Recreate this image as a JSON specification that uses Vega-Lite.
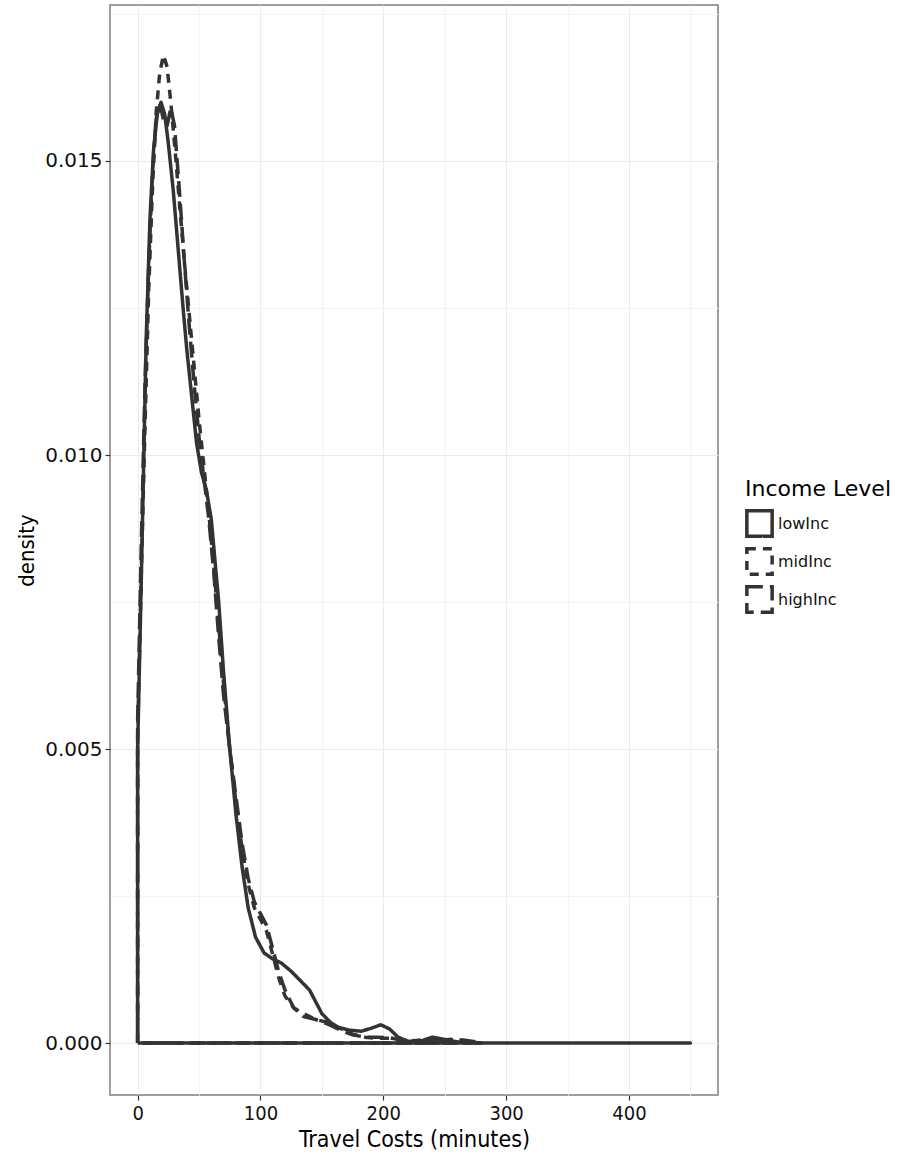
{
  "$schema": "https://vega.github.io/schema/vega-lite/v6.json",
  "width": 608,
  "height": 1090,
  "autosize": {"type": "none"},
  "padding": {"left": 110, "top": 5, "right": 202, "bottom": 60},
  "background": "white",
  "config": {
    "view": {"stroke": "#7f7f7f", "strokeWidth": 1.5},
    "axis": {"domain": false, "tickColor": "#333333", "tickSize": 5, "tickWidth": 1.2, "labelColor": "#111111", "titleColor": "#000000", "titleFontWeight": "normal", "gridColor": "#ebebeb", "gridWidth": 1}
  },
  "data": {
    "values": [
      {"g": "lowInc", "i": 0, "x": 0, "y": 0},
      {"g": "lowInc", "i": 1, "x": 0, "y": 0.0050},
      {"g": "lowInc", "i": 2, "x": 3, "y": 0.0079},
      {"g": "lowInc", "i": 3, "x": 7, "y": 0.0120},
      {"g": "lowInc", "i": 4, "x": 10, "y": 0.0140},
      {"g": "lowInc", "i": 5, "x": 13, "y": 0.0152},
      {"g": "lowInc", "i": 6, "x": 16, "y": 0.0158},
      {"g": "lowInc", "i": 7, "x": 19, "y": 0.0160},
      {"g": "lowInc", "i": 8, "x": 22, "y": 0.0158},
      {"g": "lowInc", "i": 9, "x": 25, "y": 0.0153},
      {"g": "lowInc", "i": 10, "x": 29, "y": 0.0145},
      {"g": "lowInc", "i": 11, "x": 33, "y": 0.0135},
      {"g": "lowInc", "i": 12, "x": 37, "y": 0.0125},
      {"g": "lowInc", "i": 13, "x": 40, "y": 0.0118},
      {"g": "lowInc", "i": 14, "x": 44, "y": 0.0110},
      {"g": "lowInc", "i": 15, "x": 48, "y": 0.0102},
      {"g": "lowInc", "i": 16, "x": 52, "y": 0.0097},
      {"g": "lowInc", "i": 17, "x": 56, "y": 0.0094},
      {"g": "lowInc", "i": 18, "x": 60, "y": 0.0089},
      {"g": "lowInc", "i": 19, "x": 63, "y": 0.0082},
      {"g": "lowInc", "i": 20, "x": 66, "y": 0.0075},
      {"g": "lowInc", "i": 21, "x": 70, "y": 0.0063},
      {"g": "lowInc", "i": 22, "x": 75, "y": 0.0050},
      {"g": "lowInc", "i": 23, "x": 80, "y": 0.0039},
      {"g": "lowInc", "i": 24, "x": 85, "y": 0.0030},
      {"g": "lowInc", "i": 25, "x": 90, "y": 0.0023},
      {"g": "lowInc", "i": 26, "x": 96, "y": 0.0018},
      {"g": "lowInc", "i": 27, "x": 103, "y": 0.00153},
      {"g": "lowInc", "i": 28, "x": 110, "y": 0.00143},
      {"g": "lowInc", "i": 29, "x": 117, "y": 0.00136},
      {"g": "lowInc", "i": 30, "x": 125, "y": 0.00122},
      {"g": "lowInc", "i": 31, "x": 133, "y": 0.00105},
      {"g": "lowInc", "i": 32, "x": 140, "y": 0.0009},
      {"g": "lowInc", "i": 33, "x": 145, "y": 0.0007},
      {"g": "lowInc", "i": 34, "x": 150, "y": 0.0005},
      {"g": "lowInc", "i": 35, "x": 157, "y": 0.00035},
      {"g": "lowInc", "i": 36, "x": 163, "y": 0.00027},
      {"g": "lowInc", "i": 37, "x": 172, "y": 0.00022},
      {"g": "lowInc", "i": 38, "x": 182, "y": 0.0002},
      {"g": "lowInc", "i": 39, "x": 190, "y": 0.00025},
      {"g": "lowInc", "i": 40, "x": 198, "y": 0.00031},
      {"g": "lowInc", "i": 41, "x": 205, "y": 0.00024},
      {"g": "lowInc", "i": 42, "x": 212, "y": 0.0001},
      {"g": "lowInc", "i": 43, "x": 220, "y": 0.00003},
      {"g": "lowInc", "i": 44, "x": 230, "y": 0.00003},
      {"g": "lowInc", "i": 45, "x": 240, "y": 0.0001},
      {"g": "lowInc", "i": 46, "x": 250, "y": 0.00006},
      {"g": "lowInc", "i": 47, "x": 260, "y": 0.00002},
      {"g": "lowInc", "i": 48, "x": 280, "y": 0},
      {"g": "lowInc", "i": 49, "x": 350, "y": 0},
      {"g": "lowInc", "i": 50, "x": 450, "y": 0},
      {"g": "lowInc", "i": 51, "x": 0, "y": 0},
      {"g": "midInc", "i": 0, "x": 0, "y": 0},
      {"g": "midInc", "i": 1, "x": 0, "y": 0.0052},
      {"g": "midInc", "i": 2, "x": 3, "y": 0.0080},
      {"g": "midInc", "i": 3, "x": 6, "y": 0.0105},
      {"g": "midInc", "i": 4, "x": 9, "y": 0.0128},
      {"g": "midInc", "i": 5, "x": 12, "y": 0.0145},
      {"g": "midInc", "i": 6, "x": 15, "y": 0.0158},
      {"g": "midInc", "i": 7, "x": 18, "y": 0.0165},
      {"g": "midInc", "i": 8, "x": 21, "y": 0.0168},
      {"g": "midInc", "i": 9, "x": 24, "y": 0.0166},
      {"g": "midInc", "i": 10, "x": 27, "y": 0.0160},
      {"g": "midInc", "i": 11, "x": 30, "y": 0.0153},
      {"g": "midInc", "i": 12, "x": 34, "y": 0.0143},
      {"g": "midInc", "i": 13, "x": 38, "y": 0.0133},
      {"g": "midInc", "i": 14, "x": 42, "y": 0.0124},
      {"g": "midInc", "i": 15, "x": 46, "y": 0.0115},
      {"g": "midInc", "i": 16, "x": 50, "y": 0.0106},
      {"g": "midInc", "i": 17, "x": 54, "y": 0.0098},
      {"g": "midInc", "i": 18, "x": 58, "y": 0.0090},
      {"g": "midInc", "i": 19, "x": 62, "y": 0.0081},
      {"g": "midInc", "i": 20, "x": 66, "y": 0.0071},
      {"g": "midInc", "i": 21, "x": 70, "y": 0.0061},
      {"g": "midInc", "i": 22, "x": 75, "y": 0.0050},
      {"g": "midInc", "i": 23, "x": 80, "y": 0.0041},
      {"g": "midInc", "i": 24, "x": 85, "y": 0.0033},
      {"g": "midInc", "i": 25, "x": 90, "y": 0.0027},
      {"g": "midInc", "i": 26, "x": 95, "y": 0.0023},
      {"g": "midInc", "i": 27, "x": 100, "y": 0.0021},
      {"g": "midInc", "i": 28, "x": 105, "y": 0.0019},
      {"g": "midInc", "i": 29, "x": 110, "y": 0.0015},
      {"g": "midInc", "i": 30, "x": 115, "y": 0.0011},
      {"g": "midInc", "i": 31, "x": 120, "y": 0.0008},
      {"g": "midInc", "i": 32, "x": 127, "y": 0.0006},
      {"g": "midInc", "i": 33, "x": 135, "y": 0.0005},
      {"g": "midInc", "i": 34, "x": 145, "y": 0.0004},
      {"g": "midInc", "i": 35, "x": 155, "y": 0.00035},
      {"g": "midInc", "i": 36, "x": 165, "y": 0.00025},
      {"g": "midInc", "i": 37, "x": 175, "y": 0.00015},
      {"g": "midInc", "i": 38, "x": 185, "y": 0.0001},
      {"g": "midInc", "i": 39, "x": 195, "y": 0.00008},
      {"g": "midInc", "i": 40, "x": 205, "y": 0.00008},
      {"g": "midInc", "i": 41, "x": 215, "y": 0.00005},
      {"g": "midInc", "i": 42, "x": 225, "y": 0.00004},
      {"g": "midInc", "i": 43, "x": 235, "y": 0.00006},
      {"g": "midInc", "i": 44, "x": 245, "y": 0.00005},
      {"g": "midInc", "i": 45, "x": 255, "y": 0.00006},
      {"g": "midInc", "i": 46, "x": 265, "y": 0.00004},
      {"g": "midInc", "i": 47, "x": 275, "y": 0.00001},
      {"g": "midInc", "i": 48, "x": 280, "y": 0},
      {"g": "midInc", "i": 49, "x": 0, "y": 0},
      {"g": "highInc", "i": 0, "x": 0, "y": 0},
      {"g": "highInc", "i": 1, "x": 0, "y": 0.0055},
      {"g": "highInc", "i": 2, "x": 3, "y": 0.0085},
      {"g": "highInc", "i": 3, "x": 6, "y": 0.0112},
      {"g": "highInc", "i": 4, "x": 9, "y": 0.0132},
      {"g": "highInc", "i": 5, "x": 12, "y": 0.0148},
      {"g": "highInc", "i": 6, "x": 15, "y": 0.0157},
      {"g": "highInc", "i": 7, "x": 18, "y": 0.0160},
      {"g": "highInc", "i": 8, "x": 21, "y": 0.0157},
      {"g": "highInc", "i": 9, "x": 24, "y": 0.0156},
      {"g": "highInc", "i": 10, "x": 27, "y": 0.0159},
      {"g": "highInc", "i": 11, "x": 30, "y": 0.0156},
      {"g": "highInc", "i": 12, "x": 34, "y": 0.0145},
      {"g": "highInc", "i": 13, "x": 38, "y": 0.0133},
      {"g": "highInc", "i": 14, "x": 42, "y": 0.0122},
      {"g": "highInc", "i": 15, "x": 46, "y": 0.0112},
      {"g": "highInc", "i": 16, "x": 50, "y": 0.0103},
      {"g": "highInc", "i": 17, "x": 54, "y": 0.0096},
      {"g": "highInc", "i": 18, "x": 58, "y": 0.0089},
      {"g": "highInc", "i": 19, "x": 62, "y": 0.0080},
      {"g": "highInc", "i": 20, "x": 66, "y": 0.0069},
      {"g": "highInc", "i": 21, "x": 70, "y": 0.0059},
      {"g": "highInc", "i": 22, "x": 75, "y": 0.0050},
      {"g": "highInc", "i": 23, "x": 80, "y": 0.0042},
      {"g": "highInc", "i": 24, "x": 85, "y": 0.0034},
      {"g": "highInc", "i": 25, "x": 90, "y": 0.0028},
      {"g": "highInc", "i": 26, "x": 95, "y": 0.0024},
      {"g": "highInc", "i": 27, "x": 100, "y": 0.0022},
      {"g": "highInc", "i": 28, "x": 105, "y": 0.0020},
      {"g": "highInc", "i": 29, "x": 110, "y": 0.0016},
      {"g": "highInc", "i": 30, "x": 115, "y": 0.0012},
      {"g": "highInc", "i": 31, "x": 120, "y": 0.0009},
      {"g": "highInc", "i": 32, "x": 127, "y": 0.0006},
      {"g": "highInc", "i": 33, "x": 135, "y": 0.00045},
      {"g": "highInc", "i": 34, "x": 145, "y": 0.0004},
      {"g": "highInc", "i": 35, "x": 155, "y": 0.00032},
      {"g": "highInc", "i": 36, "x": 165, "y": 0.00022},
      {"g": "highInc", "i": 37, "x": 175, "y": 0.00014},
      {"g": "highInc", "i": 38, "x": 185, "y": 0.0001},
      {"g": "highInc", "i": 39, "x": 195, "y": 0.0001},
      {"g": "highInc", "i": 40, "x": 205, "y": 0.00009},
      {"g": "highInc", "i": 41, "x": 215, "y": 0.00005},
      {"g": "highInc", "i": 42, "x": 225, "y": 0.00003},
      {"g": "highInc", "i": 43, "x": 240, "y": 0.00004},
      {"g": "highInc", "i": 44, "x": 255, "y": 0.00006},
      {"g": "highInc", "i": 45, "x": 265, "y": 0.00005},
      {"g": "highInc", "i": 46, "x": 275, "y": 0.00002},
      {"g": "highInc", "i": 47, "x": 280, "y": 0},
      {"g": "highInc", "i": 48, "x": 0, "y": 0}
    ]
  },
  "resolve": {"axis": {"x": "independent", "y": "independent"}},
  "layer": [
    {
      "mark": {"type": "line", "opacity": 0},
      "encoding": {
        "x": {"field": "x", "type": "quantitative", "scale": {"domain": [-22.5, 472.5], "nice": false, "zero": false},
          "axis": {"orient": "bottom", "values": [50, 150, 250, 350, 450], "labels": false, "ticks": false, "title": null, "grid": true, "gridColor": "#f4f4f4"}},
        "y": {"field": "y", "type": "quantitative", "scale": {"domain": [-0.000884, 0.017653], "nice": false, "zero": false},
          "axis": {"orient": "left", "values": [0.0025, 0.0075, 0.0125, 0.0175], "labels": false, "ticks": false, "title": null, "grid": true, "gridColor": "#f4f4f4"}},
        "detail": {"field": "g"},
        "order": {"field": "i"}
      }
    },
    {
      "mark": {"type": "line", "stroke": "#333333", "strokeWidth": 3.5, "strokeJoin": "round", "strokeCap": "butt"},
      "encoding": {
        "x": {"field": "x", "type": "quantitative", "scale": {"domain": [-22.5, 472.5], "nice": false, "zero": false},
          "axis": {"orient": "bottom", "values": [0, 100, 200, 300, 400], "grid": true, "title": "Travel Costs (minutes)",
            "labelFont": "DejaVu Sans Condensed, Roboto Condensed, Liberation Sans Narrow, Roboto", "labelFontSize": 20, "labelPadding": 3,
            "titleFont": "DejaVu Sans Condensed, Roboto Condensed, Liberation Sans Narrow, Roboto", "titleFontSize": 23, "titlePadding": 5}},
        "y": {"field": "y", "type": "quantitative", "scale": {"domain": [-0.000884, 0.017653], "nice": false, "zero": false},
          "axis": {"orient": "left", "values": [0, 0.005, 0.01, 0.015], "format": ".3f", "grid": true, "title": "density",
            "labelFont": "DejaVu Sans", "labelFontSize": 20, "labelPadding": 3,
            "titleFont": "DejaVu Sans Condensed, Roboto Condensed, Liberation Sans Narrow, Roboto", "titleFontSize": 22, "titlePadding": 6}},
        "strokeDash": {"field": "g", "type": "nominal", "title": "Income Level",
          "scale": {"domain": ["lowInc", "midInc", "highInc"], "range": [[1, 0], [9, 7], [16, 7]]},
          "legend": {"orient": "none", "legendX": 635, "legendY": 474, "symbolType": "square", "symbolSize": 640,
            "symbolStrokeWidth": 3.5, "symbolStrokeColor": "#333333", "symbolFillColor": "white",
            "titleFont": "DejaVu Sans", "titleFontSize": 22, "titleFontWeight": "normal", "titleColor": "#000000", "titlePadding": 8,
            "labelFont": "DejaVu Sans", "labelFontSize": 16, "labelColor": "#111111", "labelOffset": 4, "rowPadding": -3}},
        "detail": {"field": "g"},
        "order": {"field": "i"}
      }
    }
  ]
}
